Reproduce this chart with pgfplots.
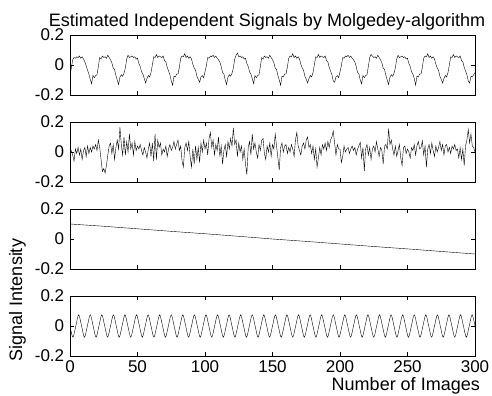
\documentclass[border=0pt]{standalone}
\usepackage{pgfplots}
\pgfplotsset{compat=1.18}
\usepackage{fontspec}
\setmainfont{Liberation Sans}
\newcommand{\fs}{\fontsize{17bp}{20bp}\selectfont}
\newcommand{\fl}{\fontsize{18bp}{21bp}\selectfont}
\pgfplotsset{
  sigax/.style={
    scale only axis, width=405bp, height=60bp,
    xmin=0, xmax=300, ymin=-0.2, ymax=0.2,
    xtick={0,50,100,150,200,250,300},
    ytick={-0.2,0,0.2},
    yticklabels={-0.2,0,0.2},
    xticklabels={},
    tick align=inside,
    major tick length=4bp,
    every tick/.style={black, line width=0.8bp},
    axis line style={black, line width=1bp},
    tick label style={font=\fs},
    xticklabel style={inner sep=0pt, text height=12bp, text depth=0pt, yshift=-4bp},
    anchor=north west,
    cycle list={{black, line width=1bp, mark=none}},
  }
}
\begin{document}
\fs
\begin{tikzpicture}
% ---- Signal 1 ----
\begin{axis}[sigax, at={(70bp,-35bp)}]
\addplot coordinates {
(0,-0.07)(1,-0.02)(2,0.035)(3,0.05)(4,0.045)(5,0.055)(6,0.05)(7,0.06)(8,0.045)(9,0.055)(10,0.04)(11,0.02)(12,-0.005)(13,-0.035)(14,-0.06)(15,-0.095)
(16,-0.125)(17,-0.07)(18,-0.085)(19,-0.07)(20,-0.065)(21,-0.01)(22,0.05)(23,0.04)(24,0.06)(25,0.05)(26,0.055)(27,0.045)(28,0.065)(29,0.05)(30,0.035)(31,0.015)(32,-0.02)(33,-0.03)(34,-0.07)(35,-0.1)
(36,-0.13)(37,-0.08)(38,-0.065)(39,-0.075)(40,-0.055)(41,-0.02)(42,0.04)(43,0.065)(44,0.05)(45,0.055)(46,0.06)(47,0.05)(48,0.055)(49,0.04)(50,0.045)(51,0.01)(52,-0.01)(53,-0.045)(54,-0.06)(55,-0.09)
(56,-0.12)(57,-0.09)(58,-0.07)(59,-0.08)(60,-0.05)(61,0.0)(62,0.055)(63,0.05)(64,0.07)(65,0.05)(66,0.06)(67,0.055)(68,0.05)(69,0.06)(70,0.03)(71,0.02)(72,-0.015)(73,-0.04)(74,-0.065)(75,-0.105)
(76,-0.135)(77,-0.075)(78,-0.08)(79,-0.06)(80,-0.06)(81,-0.015)(82,0.045)(83,0.06)(84,0.055)(85,0.075)(86,0.05)(87,0.06)(88,0.045)(89,0.055)(90,0.04)(91,0.005)(92,-0.02)(93,-0.035)(94,-0.075)(95,-0.095)
(96,-0.115)(97,-0.08)(98,-0.07)(99,-0.085)(100,-0.045)(101,-0.005)(102,0.05)(103,0.045)(104,0.06)(105,0.055)(106,0.065)(107,0.05)(108,0.06)(109,0.045)(110,0.035)(111,0.02)(112,-0.01)(113,-0.05)(114,-0.06)(115,-0.1)
(116,-0.13)(117,-0.08)(118,-0.065)(119,-0.075)(120,-0.055)(121,-0.02)(122,0.04)(123,0.065)(124,0.08)(125,0.055)(126,0.06)(127,0.05)(128,0.055)(129,0.04)(130,0.045)(131,0.01)(132,-0.01)(133,-0.045)(134,-0.06)(135,-0.09)
(136,-0.125)(137,-0.07)(138,-0.085)(139,-0.07)(140,-0.065)(141,-0.01)(142,0.05)(143,0.04)(144,0.06)(145,0.05)(146,0.055)(147,0.045)(148,0.065)(149,0.05)(150,0.035)(151,0.015)(152,-0.02)(153,-0.03)(154,-0.07)(155,-0.1)
(156,-0.135)(157,-0.075)(158,-0.08)(159,-0.06)(160,-0.06)(161,-0.015)(162,0.045)(163,0.06)(164,0.055)(165,0.075)(166,0.05)(167,0.06)(168,0.045)(169,0.055)(170,0.04)(171,0.005)(172,-0.02)(173,-0.035)(174,-0.075)(175,-0.095)
(176,-0.12)(177,-0.09)(178,-0.07)(179,-0.08)(180,-0.05)(181,0.0)(182,0.055)(183,0.05)(184,0.07)(185,0.05)(186,0.06)(187,0.055)(188,0.05)(189,0.06)(190,0.03)(191,0.02)(192,-0.015)(193,-0.04)(194,-0.065)(195,-0.105)
(196,-0.115)(197,-0.08)(198,-0.07)(199,-0.085)(200,-0.045)(201,-0.005)(202,0.05)(203,0.045)(204,0.06)(205,0.055)(206,0.065)(207,0.05)(208,0.06)(209,0.045)(210,0.035)(211,0.02)(212,-0.01)(213,-0.05)(214,-0.06)(215,-0.1)
(216,-0.125)(217,-0.07)(218,-0.085)(219,-0.07)(220,-0.065)(221,-0.01)(222,0.05)(223,0.07)(224,0.06)(225,0.05)(226,0.055)(227,0.045)(228,0.065)(229,0.05)(230,0.035)(231,0.015)(232,-0.02)(233,-0.03)(234,-0.07)(235,-0.1)
(236,-0.13)(237,-0.08)(238,-0.065)(239,-0.075)(240,-0.055)(241,-0.02)(242,0.04)(243,0.065)(244,0.05)(245,0.055)(246,0.06)(247,0.05)(248,0.055)(249,0.04)(250,0.045)(251,0.01)(252,-0.01)(253,-0.045)(254,-0.06)(255,-0.09)
(256,-0.135)(257,-0.075)(258,-0.08)(259,-0.06)(260,-0.06)(261,-0.015)(262,0.045)(263,0.06)(264,0.055)(265,0.075)(266,0.05)(267,0.06)(268,0.045)(269,0.055)(270,0.04)(271,0.005)(272,-0.02)(273,-0.035)(274,-0.075)(275,-0.095)
(276,-0.12)(277,-0.09)(278,-0.07)(279,-0.08)(280,-0.05)(281,0.0)(282,0.055)(283,0.05)(284,0.07)(285,0.05)(286,0.06)(287,0.055)(288,0.05)(289,0.06)(290,0.03)(291,0.02)(292,-0.015)(293,-0.04)(294,-0.065)(295,-0.105)
(296,-0.12)(297,-0.075)(298,-0.08)(299,-0.065)(300,-0.05)
};
\end{axis}
% ---- Signal 2 ----
\begin{axis}[sigax, at={(70bp,-122bp)}]
\addplot coordinates {
(0,0.00)(1,0.01)(2,-0.02)(3,-0.06)(4,0.02)(5,-0.01)(6,0.03)(7,-0.02)(8,0.02)(9,-0.05)
(10,0.01)(11,0.03)(12,-0.03)(13,0.04)(14,-0.01)(15,0.03)(16,0.00)(17,0.04)(18,0.02)(19,0.05)
(20,0.01)(21,0.08)(22,0.03)(23,-0.05)(24,-0.13)(25,-0.11)(26,-0.14)(27,-0.09)(28,-0.02)(29,0.04)
(30,0.06)(31,-0.01)(32,0.05)(33,-0.05)(34,0.03)(35,0.08)(36,0.02)(37,0.165)(38,0.05)(39,-0.02)
(40,0.10)(41,-0.02)(42,0.07)(43,0.00)(44,0.12)(45,0.02)(46,0.06)(47,-0.02)(48,0.07)(49,0.01)
(50,0.04)(51,0.02)(52,0.05)(53,0.01)(54,-0.02)(55,0.03)(56,0.00)(57,-0.04)(58,0.02)(59,0.06)
(60,-0.03)(61,0.06)(62,-0.06)(63,0.12)(64,-0.05)(65,0.08)(66,0.03)(67,0.06)(68,-0.02)(69,0.02)
(70,0.00)(71,0.04)(72,-0.03)(73,0.02)(74,0.05)(75,0.01)(76,0.03)(77,0.07)(78,0.02)(79,0.05)
(80,0.08)(81,0.01)(82,0.04)(83,-0.06)(84,-0.10)(85,0.03)(86,0.06)(87,0.01)(88,0.07)(89,-0.03)
(90,-0.10)(91,0.02)(92,-0.08)(93,0.04)(94,-0.05)(95,0.03)(96,-0.07)(97,0.06)(98,0.00)(99,0.08)
(100,0.02)(101,0.06)(102,-0.02)(103,0.09)(104,0.13)(105,0.03)(106,0.08)(107,-0.02)(108,0.05)(109,0.01)
(110,0.10)(111,-0.03)(112,0.04)(113,-0.08)(114,0.01)(115,0.05)(116,-0.03)(117,0.07)(118,0.02)(119,0.09)
(120,0.04)(121,0.16)(122,0.05)(123,0.08)(124,-0.03)(125,0.06)(126,0.00)(127,0.04)(128,-0.05)(129,0.02)
(130,-0.08)(131,-0.15)(132,0.03)(133,0.07)(134,-0.02)(135,0.12)(136,0.02)(137,0.06)(138,0.00)(139,-0.04)
(140,0.05)(141,0.01)(142,0.08)(143,0.09)(144,-0.01)(145,-0.05)(146,0.04)(147,0.00)(148,0.06)(149,-0.03)
(150,0.05)(151,0.02)(152,0.12)(153,0.04)(154,-0.04)(155,-0.12)(156,0.03)(157,0.06)(158,0.00)(159,0.04)
(160,0.05)(161,-0.01)(162,0.03)(163,0.00)(164,0.05)(165,0.02)(166,-0.03)(167,0.08)(168,0.13)(169,0.04)
(170,0.01)(171,-0.02)(172,0.04)(173,0.06)(174,0.02)(175,0.08)(176,0.10)(177,0.03)(178,0.05)(179,-0.01)
(180,0.04)(181,-0.05)(182,0.02)(183,-0.10)(184,-0.04)(185,0.03)(186,-0.02)(187,0.05)(188,0.02)(189,0.06)
(190,0.01)(191,0.07)(192,0.03)(193,0.08)(194,0.10)(195,0.14)(196,0.06)(197,-0.02)(198,0.05)(199,0.02)
(200,0.02)(201,-0.07)(202,-0.03)(203,0.04)(204,0.00)(205,0.02)(206,0.03)(207,-0.01)(208,0.02)(209,0.04)
(210,0.01)(211,0.03)(212,-0.02)(213,0.02)(214,0.04)(215,0.065)(216,-0.04)(217,0.03)(218,-0.125)(219,0.02)
(220,0.05)(221,-0.02)(222,0.03)(223,-0.05)(224,0.02)(225,0.04)(226,0.00)(227,0.07)(228,0.02)(229,-0.03)
(230,0.03)(231,0.01)(232,-0.08)(233,0.04)(234,0.05)(235,0.02)(236,0.155)(237,0.05)(238,0.08)(239,0.02)
(240,-0.02)(241,0.04)(242,-0.03)(243,0.01)(244,0.05)(245,-0.04)(246,-0.09)(247,0.03)(248,0.04)(249,-0.01)
(250,0.02)(251,0.00)(252,-0.04)(253,0.03)(254,0.01)(255,0.05)(256,-0.02)(257,0.04)(258,0.07)(259,0.02)
(260,0.03)(261,0.075)(262,-0.02)(263,0.04)(264,-0.10)(265,0.02)(266,0.05)(267,-0.01)(268,0.06)(269,0.01)
(270,-0.03)(271,0.04)(272,0.00)(273,0.03)(274,0.07)(275,0.01)(276,0.05)(277,-0.02)(278,0.04)(279,0.05)
(280,0.00)(281,0.03)(282,-0.01)(283,0.04)(284,0.02)(285,0.05)(286,0.01)(287,0.02)(288,-0.04)(289,0.03)
(290,-0.05)(291,0.02)(292,-0.09)(293,0.04)(294,0.08)(295,0.15)(296,0.06)(297,0.12)(298,0.04)(299,0.03)(300,0.00)
};
\end{axis}
% ---- Signal 3 ----
\begin{axis}[sigax, at={(70bp,-209bp)}]
\addplot coordinates {
(0,0.1)(25,0.085)(50,0.068)(75,0.051)(100,0.035)(125,0.018)(150,0.0)(175,-0.016)(200,-0.033)(225,-0.05)(250,-0.066)(275,-0.083)(300,-0.1)
};
\end{axis}
% ---- Signal 4 ----
\begin{axis}[sigax, at={(70bp,-296bp)}, xticklabels={0,50,100,150,200,250,300}]
\addplot+[smooth] coordinates {
(0,0)(2.14,-0.075)(4.29,0)(6.43,0.075)(8.57,0)(10.71,-0.075)(12.86,0)
(15,0.075)(17.14,0)(19.29,-0.075)(21.43,0)(23.57,0.075)(25.71,0)(27.86,-0.075)
(30,0)(32.14,0.075)(34.29,0)(36.43,-0.075)(38.57,0)(40.71,0.075)(42.86,0)
(45,-0.075)(47.14,0)(49.29,0.075)(51.43,0)(53.57,-0.075)(55.71,0)(57.86,0.075)
(60,0)(62.14,-0.075)(64.29,0)(66.43,0.075)(68.57,0)(70.71,-0.075)(72.86,0)
(75,0.075)(77.14,0)(79.29,-0.075)(81.43,0)(83.57,0.075)(85.71,0)(87.86,-0.075)
(90,0)(92.14,0.075)(94.29,0)(96.43,-0.075)(98.57,0)(100.71,0.075)(102.86,0)
(105,-0.075)(107.14,0)(109.29,0.075)(111.43,0)(113.57,-0.075)(115.71,0)(117.86,0.075)
(120,0)(122.14,-0.075)(124.29,0)(126.43,0.075)(128.57,0)(130.71,-0.075)(132.86,0)
(135,0.075)(137.14,0)(139.29,-0.075)(141.43,0)(143.57,0.075)(145.71,0)(147.86,-0.075)
(150,0)(152.14,0.075)(154.29,0)(156.43,-0.075)(158.57,0)(160.71,0.075)(162.86,0)
(165,-0.075)(167.14,0)(169.29,0.075)(171.43,0)(173.57,-0.075)(175.71,0)(177.86,0.075)
(180,0)(182.14,-0.075)(184.29,0)(186.43,0.075)(188.57,0)(190.71,-0.075)(192.86,0)
(195,0.075)(197.14,0)(199.29,-0.075)(201.43,0)(203.57,0.075)(205.71,0)(207.86,-0.075)
(210,0)(212.14,0.075)(214.29,0)(216.43,-0.075)(218.57,0)(220.71,0.075)(222.86,0)
(225,-0.075)(227.14,0)(229.29,0.075)(231.43,0)(233.57,-0.075)(235.71,0)(237.86,0.075)
(240,0)(242.14,-0.075)(244.29,0)(246.43,0.075)(248.57,0)(250.71,-0.075)(252.86,0)
(255,0.075)(257.14,0)(259.29,-0.075)(261.43,0)(263.57,0.075)(265.71,0)(267.86,-0.075)
(270,0)(272.14,0.075)(274.29,0)(276.43,-0.075)(278.57,0)(280.71,0.075)(282.86,0)
(285,-0.075)(287.14,0)(289.29,0.075)(291.43,0)(293.57,-0.075)(295.71,0)(297.86,0.075)
(300,0)
};
\end{axis}
% ---- Texts ----
\node[anchor=base, font=\fl] at (267bp,-26bp) {Estimated Independent Signals by Molgedey-algorithm};
\node[anchor=base, rotate=90, font=\fl] at (22bp,-300bp) {Signal Intensity};
\node[anchor=base east, inner sep=0pt, text height=12.5bp, font=\fl] at (480bp,-390bp) {Number of Images};
\pgfresetboundingbox
\path (0,0) rectangle (492bp,-396bp);
\end{tikzpicture}
\end{document}
